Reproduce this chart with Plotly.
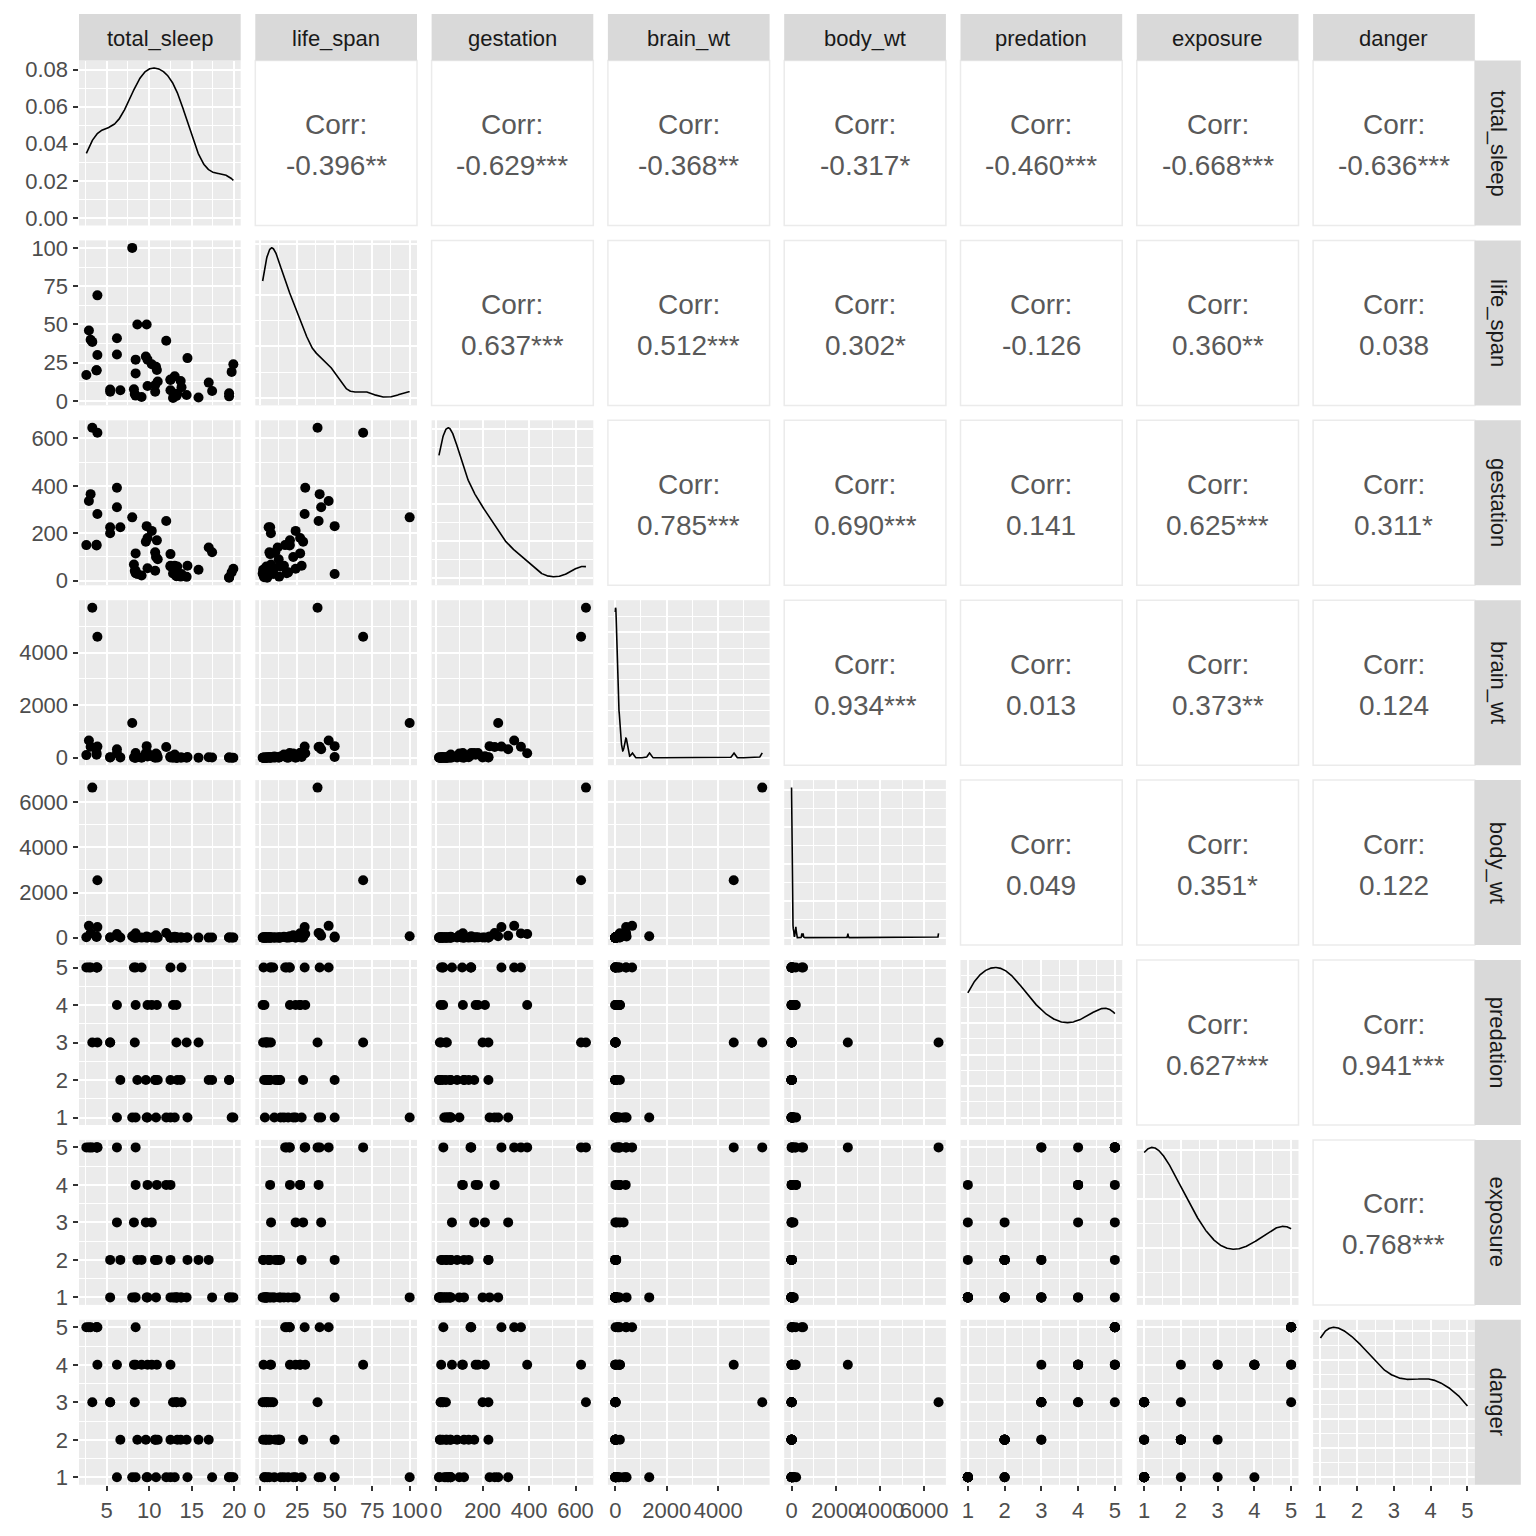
import numpy as np
import plotly.graph_objects as go

# ---------------- data (complete cases of mammals sleep data) ----------------
variables = ["total_sleep", "life_span", "gestation", "brain_wt",
             "body_wt", "predation", "exposure", "danger"]

total_sleep = [3.3, 8.3, 12.5, 3.9, 9.8, 19.7, 6.2, 14.5, 9.7, 12.5, 3.9, 3.1, 8.4, 8.6,
               10.7, 10.7, 3.8, 14.4, 12.0, 6.2, 13.0, 13.8, 8.2, 2.9, 10.8, 9.1, 19.9,
               8.0, 13.2, 12.8, 19.4, 17.4, 17.0, 10.9, 13.7, 8.4, 8.4, 12.5, 13.2, 9.8,
               9.6, 6.6, 5.4, 2.6, 3.8, 11.0, 13.3, 5.4, 15.8, 10.3, 19.4]
life_span = [38.6, 4.5, 14.0, 69.0, 27.0, 19.0, 30.4, 28.0, 50.0, 7.0, 30.0, 40.0, 3.5, 50.0,
             6.0, 10.4, 20.0, 3.9, 39.3, 41.0, 16.2, 9.0, 7.6, 46.0, 22.4, 2.6, 24.0,
             100.0, 3.2, 2.0, 5.0, 6.5, 12.0, 20.2, 13.0, 27.0, 18.0, 13.7, 4.7, 9.8,
             29.0, 7.0, 6.0, 17.0, 20.0, 12.7, 4.5, 7.5, 2.3, 24.0, 3.0]
gestation = [645, 42, 60, 624, 180, 35, 392, 63, 230, 112, 281, 365, 42, 28,
             42, 120, 148, 16, 252, 310, 63, 28, 68, 336, 100, 21.5, 50,
             267, 19, 30, 12, 120, 140, 170, 17, 115, 31, 63, 21, 52,
             164, 225, 225, 150, 151, 90, 60, 200, 46, 210, 14]
brain_wt = [5712, 6.6, 44.5, 4603, 179.5, 0.3, 169, 25.6, 440, 6.4, 423, 419, 1.2, 25,
            3.5, 5.0, 115, 1.0, 406, 325, 119.5, 4.0, 5.5, 655, 157, 0.14, 0.25,
            1320, 0.4, 0.33, 6.3, 10.8, 15.5, 115, 11.4, 180, 12.1, 39.2, 1.9, 50.4,
            179, 12.3, 21, 98.2, 175, 12.5, 2.6, 12.3, 2.5, 58, 3.9]
body_wt = [6654, 1.0, 3.385, 2547, 10.55, 0.023, 160, 3.3, 52.16, 0.425, 465, 187.1, 0.075, 3.0,
           0.785, 0.2, 27.66, 0.12, 207, 85, 36.33, 0.101, 1.04, 521, 100, 0.005, 0.01,
           62, 0.023, 0.048, 1.7, 3.5, 0.48, 10.0, 1.62, 192, 2.5, 4.288, 0.28, 4.235,
           6.8, 0.75, 3.6, 14.83, 55.5, 1.4, 0.9, 2.0, 0.104, 4.19, 3.5]
predation = [3, 3, 1, 3, 4, 1, 4, 1, 1, 5, 5, 5, 1, 2,
             2, 2, 5, 3, 1, 1, 1, 5, 5, 5, 1, 5, 1,
             1, 4, 4, 2, 2, 2, 4, 2, 4, 5, 2, 3, 1,
             2, 2, 3, 5, 5, 2, 2, 3, 3, 4, 2]
exposure = [5, 1, 1, 5, 4, 1, 5, 2, 1, 4, 5, 5, 1, 2,
            2, 2, 5, 1, 4, 3, 1, 1, 3, 5, 1, 2, 1,
            1, 1, 1, 1, 1, 2, 4, 1, 4, 5, 2, 1, 1,
            3, 2, 2, 5, 5, 2, 1, 1, 2, 3, 1]
danger = [3, 3, 1, 4, 4, 1, 4, 1, 1, 4, 5, 5, 1, 2,
          2, 2, 5, 2, 1, 1, 1, 3, 4, 5, 1, 4, 1,
          1, 3, 3, 1, 1, 2, 4, 2, 4, 5, 2, 3, 1,
          2, 2, 3, 5, 5, 2, 2, 3, 2, 4, 1]

data = [total_sleep, life_span, gestation, brain_wt, body_wt, predation, exposure, danger]

# axis breaks (tick labels) per variable
breaks = {
    "total_sleep": [5, 10, 15, 20],
    "life_span": [0, 25, 50, 75, 100],
    "gestation": [0, 200, 400, 600],
    "brain_wt": [0, 2000, 4000],
    "body_wt": [0, 2000, 4000, 6000],
    "predation": [1, 2, 3, 4, 5],
    "exposure": [1, 2, 3, 4, 5],
    "danger": [1, 2, 3, 4, 5],
}

# correlation labels (upper triangle, row-major)
corr_labels = [
    "-0.396**", "-0.629***", "-0.368**", "-0.317*", "-0.460***", "-0.668***", "-0.636***",
    "0.637***", "0.512***", "0.302*", "-0.126", "0.360**", "0.038",
    "0.785***", "0.690***", "0.141", "0.625***", "0.311*",
    "0.934***", "0.013", "0.373**", "0.124",
    "0.049", "0.351*", "0.122",
    "0.627***", "0.941***",
    "0.768***",
]

# ---------------- helpers ----------------
W = 1520.0      # figure size (page body has an 8px margin)
OFF = 8.0       # offset of the figure inside the page
PW, PH = 161.7, 165.0
col_left = [79 + i * 176.3 for i in range(8)]
row_top = [60.5 + j * 179.9 for j in range(8)]
FONT = "Liberation Sans, Arial, sans-serif"


def px(xp):
    return (xp - OFF) / W


def py(yp):
    return 1 - (yp - OFF) / W


def expand(v):
    lo, hi = float(np.min(v)), float(np.max(v))
    r = hi - lo
    return [lo - 0.05 * r, hi + 0.05 * r]


def minor_of(majors, rng):
    if len(majors) < 2:
        return []
    step = majors[1] - majors[0]
    cands = [majors[0] - step / 2] + [m + step / 2 for m in majors]
    return [m for m in cands if rng[0] <= m <= rng[1]]


def pretty(rng):
    lo, hi = rng
    span = hi - lo
    e = int(np.floor(np.log10(span)))
    best = None
    for ex in range(e - 2, e + 2):
        for qi, q in enumerate([1, 5, 2, 2.5]):
            step = q * 10.0 ** ex
            start = np.ceil(lo / step - 1e-9) * step
            ticks = []
            t = start
            while t <= hi + 1e-12:
                tv = round(t, 12)
                ticks.append(0.0 if abs(tv) < 1e-12 else tv)
                t += step
            n = len(ticks)
            if n < 3 or n > 6:
                continue
            score = abs(n - 5) + 0.1 * qi
            if best is None or score < best[0]:
                best = (score, ticks, step)
    return best[1], best[2]


def kde(v):
    x = np.asarray(v, dtype=float)
    n = len(x)
    sd = np.std(x, ddof=1)
    q75, q25 = np.percentile(x, [75, 25])
    lo = min(sd, (q75 - q25) / 1.34)
    if lo <= 0:
        lo = sd
    bw = 0.9 * lo * n ** (-0.2)
    xs = np.linspace(x.min(), x.max(), 512)
    d = np.exp(-0.5 * ((xs[:, None] - x[None, :]) / bw) ** 2).sum(axis=1) / (n * bw * np.sqrt(2 * np.pi))
    return xs, d


def fmt(v):
    return str(int(round(v))) if abs(v - round(v)) < 1e-9 else str(v)


fig = go.Figure()
layout = {}
shapes = []
annotations = []
k = 0
ci = 0
for r in range(8):
    for c in range(8):
        x0 = col_left[c]
        x1 = x0 + PW
        y0 = row_top[r]
        y1 = y0 + PH
        if c > r:
            shapes.append(dict(type="rect", xref="paper", yref="paper",
                               x0=px(x0), x1=px(x1), y0=py(y1), y1=py(y0),
                               fillcolor="white", line=dict(color="#EBEBEB", width=1.5),
                               layer="below"))
            cx = px((x0 + x1) / 2)
            cy = py((y0 + y1) / 2)
            annotations.append(dict(x=cx, y=cy, xref="paper", yref="paper", text="Corr:",
                                    showarrow=False, xanchor="center", yanchor="middle",
                                    yshift=18.5, font=dict(family=FONT, size=28, color="#595959")))
            annotations.append(dict(x=cx, y=cy, xref="paper", yref="paper", text=corr_labels[ci],
                                    showarrow=False, xanchor="center", yanchor="middle",
                                    yshift=-22.5, font=dict(family=FONT, size=28, color="#595959")))
            ci += 1
            continue
        k += 1
        suf = "" if k == 1 else str(k)
        xref, yref = "x" + suf, "y" + suf
        xv = data[c]
        xrng = expand(xv)
        xmaj = breaks[variables[c]]
        if r == c:
            xs, ds = kde(xv)
            fig.add_trace(go.Scatter(x=xs, y=ds, mode="lines", line=dict(color="black", width=1.6),
                                     xaxis=xref, yaxis=yref, hoverinfo="skip"))
            M = float(ds.max())
            yrng = [-0.05 * M, 1.05 * M]
            ymaj, ystep = pretty(yrng)
            dec = max(0, -int(np.floor(np.log10(ystep) + 1e-9)))
            ytext = [f"{v:.{dec}f}" for v in ymaj]
        else:
            yv = data[r]
            fig.add_trace(go.Scatter(x=xv, y=yv, mode="markers",
                                     marker=dict(color="black", size=10, line=dict(width=0)),
                                     xaxis=xref, yaxis=yref, hoverinfo="skip"))
            yrng = expand(yv)
            ymaj = breaks[variables[r]]
            ytext = [fmt(v) for v in ymaj]
        common = dict(showline=False, zeroline=False, showgrid=True, gridcolor="white", gridwidth=2,
                      tickfont=dict(family=FONT, size=22, color="#4D4D4D"), automargin=False,
                      tickangle=0,
                      tickcolor="#333333", tickwidth=1.8, ticklen=5.5, fixedrange=True)
        layout["xaxis" + suf] = dict(common, domain=[px(x0), px(x1)], range=xrng, anchor=yref,
                                     tickmode="array", tickvals=xmaj, ticktext=[fmt(v) for v in xmaj],
                                     showticklabels=(r == 7), ticks="outside" if r == 7 else "",
                                     minor=dict(tickvals=minor_of(xmaj, xrng), showgrid=True,
                                                gridcolor="white", gridwidth=1, ticks=""))
        layout["yaxis" + suf] = dict(common, domain=[py(y1), py(y0)], range=yrng, anchor=xref,
                                     tickmode="array", tickvals=ymaj, ticktext=ytext,
                                     showticklabels=(c == 0), ticks="outside" if c == 0 else "",
                                     minor=dict(tickvals=minor_of(ymaj, yrng), showgrid=True,
                                                gridcolor="white", gridwidth=1, ticks=""))

# strips
for c in range(8):
    x0 = col_left[c]
    x1 = x0 + PW
    shapes.append(dict(type="rect", xref="paper", yref="paper", x0=px(x0), x1=px(x1),
                       y0=py(60.5), y1=py(14), fillcolor="#D9D9D9", line=dict(width=0)))
    annotations.append(dict(x=px((x0 + x1) / 2), y=py(38.5), xref="paper", yref="paper",
                            text=variables[c], showarrow=False, xanchor="center", yanchor="middle",
                            font=dict(family=FONT, size=22, color="#1A1A1A")))
for r in range(8):
    y0 = row_top[r]
    y1 = y0 + PH
    sx0 = col_left[7] + PW
    sx1 = sx0 + 46
    shapes.append(dict(type="rect", xref="paper", yref="paper", x0=px(sx0), x1=px(sx1),
                       y0=py(y1), y1=py(y0), fillcolor="#D9D9D9", line=dict(width=0)))
    annotations.append(dict(x=px((sx0 + sx1) / 2), y=py((y0 + y1) / 2), xref="paper", yref="paper",
                            text=variables[r], textangle=90, showarrow=False,
                            xanchor="center", yanchor="middle",
                            font=dict(family=FONT, size=22, color="#1A1A1A")))

fig.update_layout(width=int(W), height=int(W), margin=dict(l=0, r=0, t=0, b=0, autoexpand=False),
                  paper_bgcolor="white", plot_bgcolor="#EBEBEB", showlegend=False,
                  shapes=shapes, annotations=annotations, **layout)
fig.write_html("out.html")
